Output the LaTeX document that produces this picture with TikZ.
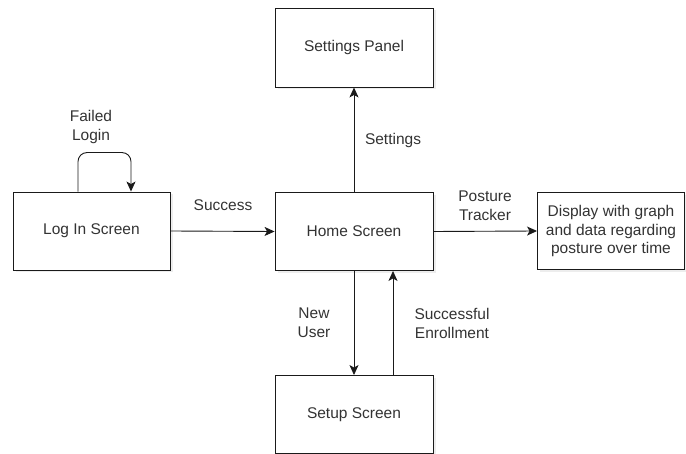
\documentclass[tikz,border=0pt]{standalone}
\usepackage{fontspec}
\setmainfont{Liberation Sans}
\usetikzlibrary{arrows.meta,shadows}
\definecolor{txt}{HTML}{333333}
\definecolor{ln}{HTML}{1A1A1A}
\begin{document}
\begin{tikzpicture}[x=1pt,y=-1pt,
  font=\fontsize{15.5}{18.5}\selectfont,
  box/.style={draw=ln, line width=0.9pt, fill=white, inner sep=0pt, text=txt, align=center,
    drop shadow={fill=black!20, opacity=0.35, shadow xshift=2.5pt, shadow yshift=-2.5pt}},
  lbl/.style={text=txt, align=center, inner sep=0pt},
  conn/.style={draw=ln, line width=0.9pt, -{Stealth[length=10pt,width=9pt,inset=2.5pt]}}]
\useasboundingbox (0,0) rectangle (686,454);
\node[box, minimum width=157pt, minimum height=78pt] (login) at (91.5,231) {Log In Screen};
\node[box, minimum width=158pt, minimum height=78pt] (home) at (354,231.5) {Home Screen};
\node[box, minimum width=158pt, minimum height=79pt] (settings) at (354,47.5) {Settings Panel};
\node[box, minimum width=147pt, minimum height=77pt] (display) at (611,231) {Display with graph\\and data regarding\\posture over time};
\node[box, minimum width=158pt, minimum height=78pt] (setup) at (354,414.5) {Setup Screen};

\draw[conn] (login.east) -- (home.west);
\draw[conn] (home.north) -- (settings.south);
\draw[conn] (home.east) -- (display.west);
\draw[conn] (home.south) -- (setup.north);
\draw[conn] ([xshift=39pt]setup.north) -- ([xshift=39pt]home.south);
\draw[conn, rounded corners=9pt] ([xshift=-13.5pt]login.north) -- ++(0,-39) -| ([xshift=39.5pt]login.north);

\node[lbl] (lfail) at (91,127) {Failed\\Login};
\node[lbl] (lsucc) at (223,205) {Success};
\node[lbl] (lset) at (393,140) {Settings};
\node[lbl] (lpost) at (485,205.5) {Posture\\Tracker};
\node[lbl] (lnew) at (314,322.5) {New\\User};
\node[lbl] (lenr) at (452,323.5) {Successful\\Enrollment};
\end{tikzpicture}
\end{document}
